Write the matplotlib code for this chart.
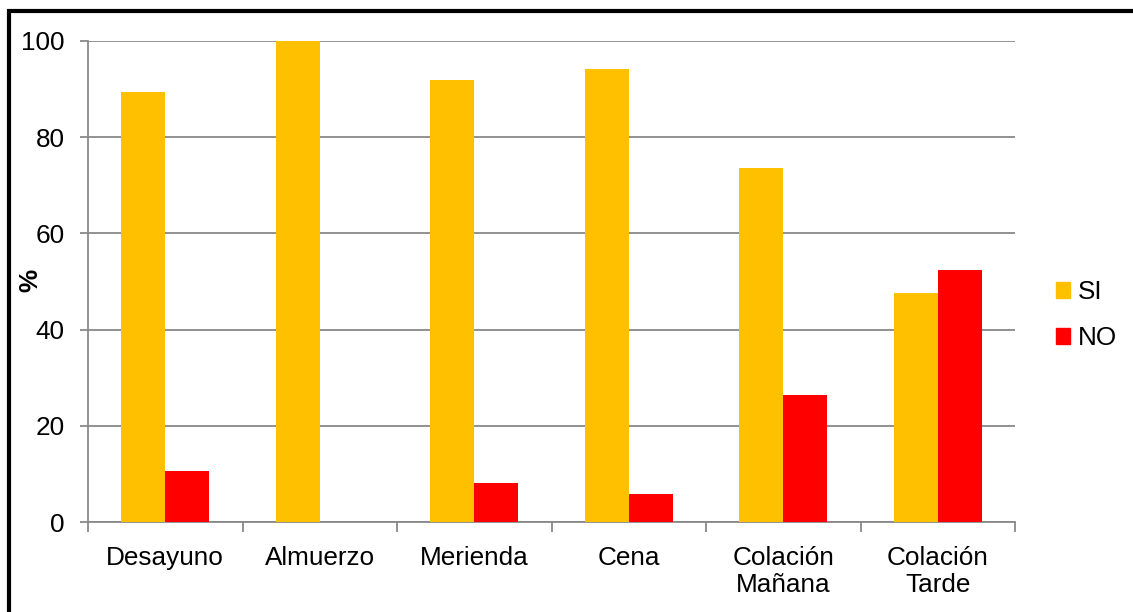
import matplotlib
matplotlib.use("Agg")
import matplotlib.pyplot as plt
import numpy as np
from matplotlib.patches import Rectangle, Patch

categories = ["Desayuno", "Almuerzo", "Merienda", "Cena", "Colación\nMañana", "Colación\nTarde"]
si_values = [89.5, 100.0, 91.8, 94.1, 73.6, 47.7]
no_values = [10.5, 0.0, 8.2, 5.9, 26.4, 52.3]
y_ticks = [0, 20, 40, 60, 80, 100]

plt.rcParams["font.family"] = ["Liberation Sans", "DejaVu Sans"]
FS = 18.8
GRAY = "#898989"

W, H = 1133, 612
fig = plt.figure(figsize=(W / 100, H / 100), dpi=100)
ax = fig.add_axes([88 / W, 1 - 522 / H, (1015 - 88) / W, (522 - 41) / H])

x = np.arange(len(categories))
bw = 0.285
ax.bar(x - bw / 2, si_values, bw, color="#FFC000", label="SI", zorder=3)
ax.bar(x + bw / 2, no_values, bw, color="#FF0000", label="NO", zorder=3)

ax.set_xlim(-0.5, len(categories) - 0.5)
ax.set_ylim(0, 100)
ax.set_yticks(y_ticks)
ax.set_yticklabels([str(v) for v in y_ticks], fontsize=FS)
ax.yaxis.grid(True, color=GRAY, linewidth=1.3, zorder=0)
ax.set_axisbelow(True)

# category labels centred, ticks on the boundaries between groups
ax.set_xticks(x)
ax.set_xticklabels(categories, fontsize=FS, linespacing=1.2)
ax.tick_params(axis="x", which="major", length=0, pad=17)
ax.set_xticks(np.arange(-0.5, len(categories)), minor=True)
ax.tick_params(axis="x", which="minor", length=7, width=1.3, color=GRAY, direction="out")
ax.tick_params(axis="y", length=6, width=1.3, color=GRAY, direction="out", pad=11)

for side in ("top", "right"):
    ax.spines[side].set_visible(False)
for side in ("left", "bottom"):
    ax.spines[side].set_color(GRAY)
    ax.spines[side].set_linewidth(1.3)

ax.set_ylabel("%", fontsize=FS, fontweight="bold")
ax.yaxis.set_label_coords((42 - 88) / 927, (522 - 280) / 481)

handles = [Patch(color="#FFC000", label="SI"), Patch(color="#FF0000", label="NO")]
fig.legend(handles=handles, loc="upper left", bbox_to_anchor=(1056 / W, 1 - 280 / H),
           frameon=False, fontsize=FS, handlelength=0.55, handleheight=0.55,
           handletextpad=0.3, labelspacing=0.85, borderaxespad=0, borderpad=0)

# outer frame of the chart area
fig.patches.append(Rectangle((9 / W, -0.05), 1.2, 1 - 11 / H + 0.05, transform=fig.transFigure,
                             fill=False, edgecolor="black", linewidth=3))

fig.savefig("out.png", dpi=100)
